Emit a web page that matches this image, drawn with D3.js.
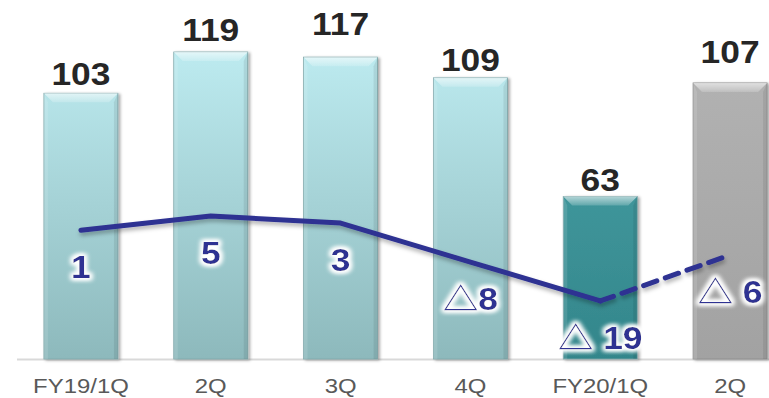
<!DOCTYPE html>
<html>
<head>
<meta charset="utf-8">
<script src="https://cdn.jsdelivr.net/npm/d3@7"></script>
<style>
  html, body { margin: 0; padding: 0; background: #fff; }
  svg { display: block; }
</style>
</head>
<body>
<svg id="chart" width="769" height="398"></svg>
<script>
// Quarterly figures: bar values and the line series (△ = negative)
const categories = ["FY19/1Q", "2Q", "3Q", "4Q", "FY20/1Q", "2Q"];
const barValues = [103, 119, 117, 109, 63, 107];
const lineValues = [1, 5, 3, -8, -19, -6];
const lineLabels = ["1", "5", "3", "△8", "△ 19", "△ 6"];
const barKinds = ["past", "past", "past", "past", "current", "forecast"];

const W = 769, H = 398;
const svg = d3.select("#chart");
const defs = svg.append("defs");

// horizontal text stretch used by all labels
const SX = 1.14;

const x = d3.scaleBand().domain(d3.range(categories.length))
  .range([16, 795]).paddingInner(0.43).paddingOuter(0.215);
const y = d3.scaleLinear().domain([0, 120]).range([359, 49.4]);
const yLine = d3.scaleLinear().domain([-35, 50]).range([357.6, 56.7]);

// gradients per bar kind (shared over the plot height)
const grads = {
  past: [["0%", "#bdebf0"], ["100%", "#8db9bc"]],
  current: [["0%", "#4aa3a8"], ["100%", "#33868b"]],
  forecast: [["0%", "#b3b3b3"], ["100%", "#a2a2a2"]]
};
Object.entries(grads).forEach(([k, stops]) => {
  const g = defs.append("linearGradient").attr("id", "g-" + k)
    .attr("gradientUnits", "userSpaceOnUse")
    .attr("x1", 0).attr("x2", 0).attr("y1", y(120)).attr("y2", y(0));
  stops.forEach(s => g.append("stop").attr("offset", s[0]).attr("stop-color", s[1]));
});
const bevelTop = defs.append("linearGradient").attr("id", "bevel-top")
  .attr("x1", 0).attr("x2", 0).attr("y1", 0).attr("y2", 1);
bevelTop.append("stop").attr("offset", "0%").attr("stop-color", "#fff").attr("stop-opacity", 0.6);
bevelTop.append("stop").attr("offset", "100%").attr("stop-color", "#fff").attr("stop-opacity", 0.18);

const barShadow = defs.append("filter").attr("id", "bar-shadow")
  .attr("x", "-20%").attr("y", "-10%").attr("width", "150%").attr("height", "130%");
barShadow.append("feDropShadow").attr("dx", 2).attr("dy", 1).attr("stdDeviation", 1.6)
  .attr("flood-color", "#000").attr("flood-opacity", 0.35);

const lineShadow = defs.append("filter").attr("id", "line-shadow")
  .attr("x", "-10%").attr("y", "-30%").attr("width", "120%").attr("height", "160%");
lineShadow.append("feDropShadow").attr("dx", 1).attr("dy", 3).attr("stdDeviation", 2)
  .attr("flood-color", "#000").attr("flood-opacity", 0.3);

const glow = defs.append("filter").attr("id", "glow")
  .attr("x", "-30%").attr("y", "-40%").attr("width", "160%").attr("height", "180%");
glow.append("feMorphology").attr("in", "SourceAlpha").attr("operator", "dilate").attr("radius", 2).attr("result", "d");
glow.append("feGaussianBlur").attr("in", "d").attr("stdDeviation", 2.2).attr("result", "b");
glow.append("feFlood").attr("flood-color", "#fff").attr("result", "f");
glow.append("feComposite").attr("in", "f").attr("in2", "b").attr("operator", "in").attr("result", "g");
const gm = glow.append("feMerge");
gm.append("feMergeNode").attr("in", "g");
gm.append("feMergeNode").attr("in", "g");
gm.append("feMergeNode").attr("in", "SourceGraphic");

// baseline
svg.append("line").attr("x1", 17).attr("x2", W).attr("y1", y(0) + 0.5).attr("y2", y(0) + 0.5)
  .attr("stroke", "#d9d9d9").attr("stroke-width", 2);

// bars with bevelled top and edges
const bw = x.bandwidth();
const bars = svg.append("g").selectAll("g").data(barValues).join("g")
  .attr("filter", "url(#bar-shadow)");
bars.append("rect")
  .attr("x", (d, i) => x(i)).attr("y", d => y(d))
  .attr("width", bw).attr("height", d => y(0) - y(d))
  .attr("fill", (d, i) => `url(#g-${barKinds[i]})`)
  .attr("stroke", (d, i) => barKinds[i] === "forecast" ? "#8c8c8c" : "#7fa7aa")
  .attr("stroke-width", 0.8);
const bv = 9;
bars.append("path")
  .attr("d", (d, i) => {
    const x0 = x(i), x1 = x(i) + bw, t = y(d);
    return `M${x0},${t}L${x1},${t}L${x1 - bv},${t + bv}L${x0 + bv},${t + bv}Z`;
  })
  .attr("fill", "url(#bevel-top)");
bars.append("path")
  .attr("d", (d, i) => {
    const x0 = x(i), t = y(d), b = y(0);
    return `M${x0},${t}L${x0 + 4},${t + bv}L${x0 + 4},${b}L${x0},${b}Z`;
  })
  .attr("fill", "#fff").attr("opacity", 0.12);
bars.append("path")
  .attr("d", (d, i) => {
    const x1 = x(i) + bw, t = y(d), b = y(0);
    return `M${x1},${t}L${x1 - 4},${t + bv}L${x1 - 4},${b}L${x1},${b}Z`;
  })
  .attr("fill", "#000").attr("opacity", 0.08);

// value labels above bars
const labelGap = [8, 11, 22, 7, 5, 20];
svg.append("g").selectAll("text").data(barValues).join("text")
  .attr("transform", (d, i) => `translate(${x(i) + bw / 2},${y(d) - labelGap[i]}) scale(${SX},1)`)
  .attr("text-anchor", "middle")
  .attr("font-family", "'Liberation Sans', Arial, sans-serif")
  .attr("font-weight", "bold").attr("font-size", 31)
  .attr("fill", "#262626")
  .text(d => d);

// line series: solid for actuals, dashed toward forecast
const pts = lineValues.map((v, i) => [x(i) + bw / 2, yLine(v)]);
const lineGen = d3.line();
const lineG = svg.append("g").attr("filter", "url(#line-shadow)");
lineG.append("path").attr("d", lineGen(pts.slice(0, 5)))
  .attr("fill", "none").attr("stroke", "#2e3192").attr("stroke-width", 5)
  .attr("stroke-linejoin", "round").attr("stroke-linecap", "round");
lineG.append("path").attr("d", lineGen(pts.slice(4)))
  .attr("fill", "none").attr("stroke", "#2e3192").attr("stroke-width", 5)
  .attr("stroke-dasharray", "14,9").attr("stroke-linecap", "round");

// line labels with white glow
const ll = svg.append("g").selectAll("text").data(lineValues).join("text")
  .attr("transform", (d, i) => `translate(${pts[i][0]},${pts[i][1] + 48}) scale(${SX},1)`)
  .attr("text-anchor", "middle")
  .attr("font-family", "'Liberation Sans', Arial, sans-serif")
  .attr("font-weight", "bold").attr("font-size", 31)
  .attr("fill", "#2e3192")
  .attr("filter", "url(#glow)");
ll.each(function (d, i) {
  const t = d3.select(this);
  const s = lineLabels[i];
  if (s.startsWith("△")) {
    t.append("tspan").attr("font-family", "'Noto Sans CJK JP', sans-serif")
      .attr("font-weight", 400).attr("font-size", 31).text("△");
    t.append("tspan").text(s.slice(1));
  } else {
    t.text(s);
  }
});

// category labels
svg.append("g").selectAll("text").data(categories).join("text")
  .attr("transform", (d, i) => `translate(${x(i) + bw / 2},393) scale(${SX},1)`)
  .attr("text-anchor", "middle")
  .attr("font-family", "'Liberation Sans', Arial, sans-serif")
  .attr("font-size", 21).attr("fill", "#595959")
  .text(d => d);
</script>
</body>
</html>
